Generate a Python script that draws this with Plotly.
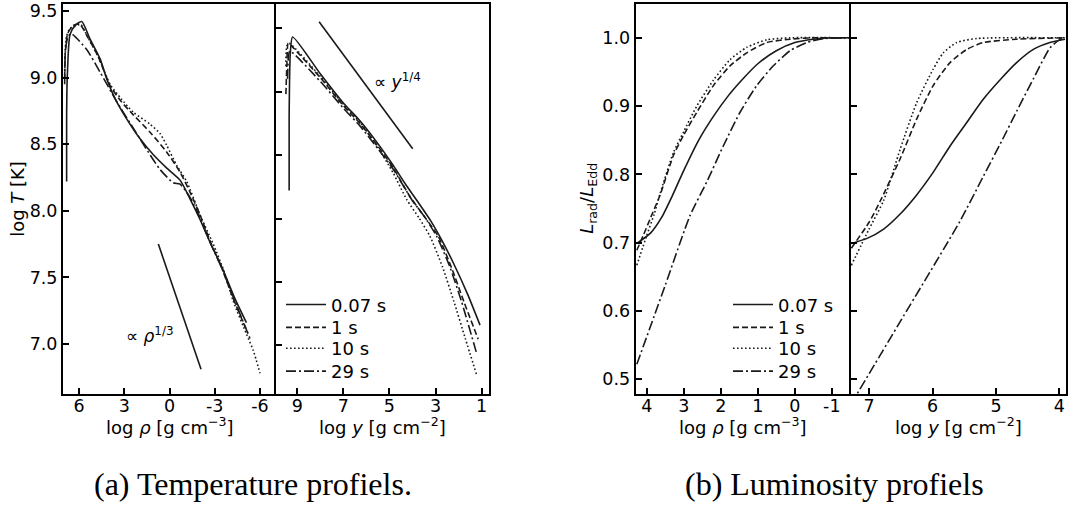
import plotly.graph_objects as go

# ---------------- data ----------------
labels = ["0.07 s", "1 s", "10 s", "29 s"]

# temperature vs density (log rho, log T)
rho_T_x = [
    [6.82, 6.82, 6.78, 6.6, 6.27, 5.82, 5.27, 4.6, 4.16, 3.6, 2.84, 1.95, 1.07, 0.18, -0.70, -1.36, -2.0, -2.7, -3.5, -4.3, -5.1],
    [6.95, 6.9, 6.75, 6.4, 5.95, 5.4, 4.7, 3.94, 3.2, 2.4, 1.29, 0.18, -0.70, -1.36, -2.02, -2.7, -3.5, -4.3, -5.2],
    [6.95, 6.85, 6.6, 6.3, 5.9, 5.4, 4.7, 3.94, 3.2, 2.4, 1.29, 0.63, 0.18, -0.48, -1.14, -2.02, -2.9, -3.6, -4.23, -5.12, -5.56, -6.0],
    [6.95, 6.9, 6.75, 6.53, 5.49, 4.6, 3.5, 2.4, 1.29, 0.63, -0.25, -0.70, -1.36, -2.02, -2.7, -3.5, -4.3, -5.34],
]
rho_T_y = [
    [8.22, 8.7, 8.99, 9.32, 9.39, 9.42, 9.29, 9.14, 8.99, 8.84, 8.69, 8.54, 8.42, 8.32, 8.23, 8.09, 7.94, 7.76, 7.57, 7.35, 7.16],
    [9.0, 9.2, 9.33, 9.39, 9.40, 9.30, 9.15, 8.94, 8.82, 8.72, 8.59, 8.44, 8.29, 8.14, 7.97, 7.77, 7.56, 7.32, 7.08],
    [9.05, 9.3, 9.37, 9.38, 9.40, 9.30, 9.15, 8.95, 8.84, 8.74, 8.65, 8.58, 8.49, 8.34, 8.22, 7.97, 7.75, 7.55, 7.32, 7.07, 6.95, 6.78],
    [8.95, 9.2, 9.3, 9.33, 9.21, 9.04, 8.82, 8.62, 8.42, 8.31, 8.21, 8.20, 8.10, 7.95, 7.76, 7.56, 7.33, 7.04],
]

# temperature vs column depth (log y, log T)
y_T_x = [
    [9.35, 9.35, 9.3, 9.2, 8.0, 7.0, 6.28, 5.5, 4.84, 4.3, 3.76, 3.2, 2.7, 2.2, 1.6, 1.07],
    [9.49, 9.45, 9.39, 9.25, 8.0, 7.0, 6.28, 5.5, 4.84, 4.1, 3.5, 2.88, 2.3, 1.77, 1.15],
    [9.49, 9.45, 9.35, 8.0, 7.0, 6.28, 5.5, 4.84, 4.25, 3.7, 3.24, 2.7, 2.2, 1.7, 1.22],
    [9.42, 9.38, 9.32, 8.0, 7.0, 6.28, 5.5, 4.84, 4.0, 3.5, 2.95, 2.4, 1.87, 1.22],
]
y_T_y = [
    [8.22, 8.8, 9.3, 9.43, 9.14, 8.91, 8.77, 8.59, 8.42, 8.27, 8.13, 7.98, 7.82, 7.64, 7.40, 7.16],
    [8.98, 9.2, 9.38, 9.36, 9.11, 8.89, 8.75, 8.57, 8.40, 8.17, 8.02, 7.86, 7.61, 7.345, 7.05],
    [9.2, 9.36, 9.38, 9.12, 8.90, 8.76, 8.56, 8.36, 8.15, 8.0, 7.86, 7.62, 7.345, 7.05, 6.77],
    [9.1, 9.28, 9.32, 9.08, 8.87, 8.73, 8.55, 8.39, 8.14, 8.02, 7.86, 7.63, 7.345, 6.94],
]

# radiative luminosity vs density (log rho, L_rad/L_Edd)
rho_L_x = [
    [4.27, 3.9, 3.6, 3.3, 3.0, 2.6, 2.2, 1.8, 1.4, 1.0, 0.5, 0.0, -0.5, -1.0, -1.51],
    [4.27, 4.1, 3.91, 3.64, 3.28, 3.01, 2.65, 2.2, 1.75, 1.3, 0.76, 0.13, -0.5, -1.51],
    [4.27, 4.0, 3.8, 3.64, 3.28, 3.0, 2.65, 2.2, 1.75, 1.3, 0.76, 0.13, -1.51],
    [4.27, 3.5, 2.83, 2.38, 1.93, 1.48, 1.03, 0.58, 0.13, -0.32, -0.8, -1.51],
]
rho_L_y = [
    [0.699, 0.714, 0.737, 0.770, 0.806, 0.850, 0.885, 0.915, 0.940, 0.962, 0.981, 0.993, 0.998, 1.0, 1.0],
    [0.689, 0.710, 0.735, 0.770, 0.828, 0.857, 0.891, 0.930, 0.959, 0.978, 0.993, 0.998, 1.0, 1.0],
    [0.667, 0.711, 0.742, 0.772, 0.832, 0.863, 0.900, 0.938, 0.968, 0.986, 0.997, 1.0, 1.0],
    [0.522, 0.638, 0.740, 0.789, 0.842, 0.891, 0.930, 0.959, 0.981, 0.993, 0.999, 1.0],
]

# radiative luminosity vs column depth (log y, L_rad/L_Edd)
y_L_x = [
    [7.28, 7.04, 6.77, 6.51, 6.25, 5.99, 5.72, 5.46, 5.2, 4.93, 4.67, 4.41, 4.15, 3.91],
    [7.28, 7.0, 6.83, 6.51, 6.25, 5.99, 5.72, 5.46, 5.2, 4.67, 3.91],
    [7.28, 7.0, 6.77, 6.51, 6.25, 5.99, 5.83, 5.62, 5.3, 3.91],
    [7.29, 6.5, 5.57, 5.2, 4.93, 4.67, 4.41, 4.15, 4.0, 3.91],
]
y_L_y = [
    [0.699, 0.706, 0.720, 0.742, 0.770, 0.803, 0.842, 0.876, 0.910, 0.939, 0.964, 0.983, 0.993, 0.998],
    [0.692, 0.730, 0.760, 0.823, 0.881, 0.930, 0.964, 0.983, 0.993, 0.998, 1.0],
    [0.667, 0.720, 0.762, 0.837, 0.905, 0.954, 0.978, 0.993, 0.999, 1.0],
    [0.463, 0.586, 0.731, 0.797, 0.845, 0.893, 0.940, 0.985, 0.997, 1.0],
]

# power-law guide lines
guide_rho_x = [0.74, -2.09]
guide_rho_y = [7.75, 6.81]
guide_y_x = [8.05, 3.99]
guide_y_y = [9.55, 8.55]

# ---------------- styling ----------------
W, H = 1069, 512
INK = "#1a1a1a"
FONT = "DejaVu Sans"
dashes = ["solid", "6px,3px", "1.6px,2.4px", "10px,3px,2px,3px"]


def px(x):
    return x / W


def py(y):
    return 1 - y / H


top, bottom = 1, 393
ydom = [py(bottom), py(top)]

fig = go.Figure()

# one single-entry legend per line style, so the rows sit at fixed pitch
legend_names = [["legend", "legend2", "legend3", "legend4"],
                ["legend5", "legend6", "legend7", "legend8"]]

panels = [
    (rho_T_x, rho_T_y, "x", "y", None),
    (y_T_x, y_T_y, "x2", "y2", 0),
    (rho_L_x, rho_L_y, "x3", "y3", 1),
    (y_L_x, y_L_y, "x4", "y4", None),
]
for xs, ys, xa, ya, leg in panels:
    for i in range(4):
        tr = dict(
            x=xs[i], y=ys[i], mode="lines", xaxis=xa, yaxis=ya,
            name=labels[i],
            line=dict(color=INK, width=1.6, dash=dashes[i], shape="spline", smoothing=0.6),
            showlegend=leg is not None,
            hoverinfo="skip",
        )
        if leg is not None:
            tr["legend"] = legend_names[leg][i]
        fig.add_trace(go.Scatter(**tr))

fig.add_trace(go.Scatter(x=guide_rho_x, y=guide_rho_y, mode="lines", xaxis="x", yaxis="y",
                         line=dict(color=INK, width=1.6), showlegend=False, hoverinfo="skip"))
fig.add_trace(go.Scatter(x=guide_y_x, y=guide_y_y, mode="lines", xaxis="x2", yaxis="y2",
                         line=dict(color=INK, width=1.6), showlegend=False, hoverinfo="skip"))

axis_common = dict(
    showline=True, linewidth=2, linecolor="black",
    ticks="inside", ticklen=6, tickwidth=1.5, tickcolor="black",
    showgrid=False, zeroline=False, ticklabeloverflow="allow",
    tickfont=dict(family=FONT, size=17.5, color="black"),
)


def xticks(vals):
    return dict(tickmode="array", tickvals=vals, ticktext=[str(v) for v in vals],
                mirror=True, ticklabelstandoff=-5)


T_ticks = [7.0, 7.5, 8.0, 8.5, 9.0, 9.5]
L_ticks = [0.5, 0.6, 0.7, 0.8, 0.9, 1.0]

layout = dict(
    width=W, height=H, autosize=False,
    margin=dict(l=0, r=0, t=0, b=0),
    paper_bgcolor="white", plot_bgcolor="white",
    font=dict(family=FONT, color="black"),
    xaxis=dict(domain=[px(63), px(276)], range=[7.06, -7.06], anchor="y",
               **xticks([6, 3, 0, -3, -6]), **axis_common),
    yaxis=dict(domain=ydom, range=[6.627, 9.552], anchor="x", mirror=False,
               tickmode="array", tickvals=T_ticks, ticktext=[f"{v:.1f}" for v in T_ticks],
               **axis_common),
    xaxis2=dict(domain=[px(276), px(489)], range=[9.92, 0.68], anchor="y2",
                **xticks([9, 7, 5, 3, 1]), **axis_common),
    yaxis2=dict(domain=ydom, range=[6.62, 9.69], anchor="x2", mirror=True,
                tickmode="array", tickvals=T_ticks, showticklabels=False, **axis_common),
    xaxis3=dict(domain=[px(635.7), px(850.7)], range=[4.30, -1.51], anchor="y3",
                **xticks([4, 3, 2, 1, 0, -1]), **axis_common),
    yaxis3=dict(domain=ydom, range=[0.479, 1.0495], anchor="x3", mirror=False,
                tickmode="array", tickvals=L_ticks, ticktext=[f"{v:.1f}" for v in L_ticks],
                **axis_common),
    xaxis4=dict(domain=[px(850.7), px(1065.7)], range=[7.29, 3.90], anchor="y4",
                **xticks([7, 6, 5, 4]), **axis_common),
    yaxis4=dict(domain=ydom, range=[0.479, 1.0495], anchor="x4", mirror=True,
                tickmode="array", tickvals=L_ticks, showticklabels=False, **axis_common),
)

row_tops = [285, 308, 329, 352]
for group, left in zip(legend_names, [281, 728]):
    for name, ytop in zip(group, row_tops):
        layout[name] = dict(x=px(left), y=py(ytop), xanchor="left", yanchor="top",
                            bgcolor="rgba(0,0,0,0)", borderwidth=0,
                            font=dict(family=FONT, size=18, color="black"), itemwidth=40)

fig.update_layout(**layout)

ann_font = dict(family=FONT, size=18, color="black")
annotations = [
    # axis titles
    dict(text="log <i>ρ</i> [g cm<sup>−3</sup>]", x=px(169.5), y=py(425)),
    dict(text="log <i>y</i> [g cm<sup>−2</sup>]", x=px(382.5), y=py(425)),
    dict(text="log <i>ρ</i> [g cm<sup>−3</sup>]", x=px(743), y=py(425)),
    dict(text="log <i>y</i> [g cm<sup>−2</sup>]", x=px(958), y=py(425)),
    dict(text="log <i>T</i> [K]", x=px(18), y=py(197), textangle=-90),
    dict(text="<i>L</i><sub>rad</sub>/<i>L</i><sub>Edd</sub>", x=px(588), y=py(197), textangle=-90),
]
for a in annotations:
    fig.add_annotation(xref="paper", yref="paper", showarrow=False,
                       xanchor="center", yanchor="middle", font=ann_font, **a)

# power-law labels
fig.add_annotation(xref="x", yref="y", x=3.02, y=7.07, text="∝ <i>ρ</i><sup>1/3</sup>",
                   showarrow=False, xanchor="left", yanchor="middle",
                   font=dict(family=FONT, size=17, color="black"))
fig.add_annotation(xref="x2", yref="y2", x=5.77, y=9.08, text="∝ <i>y</i><sup>1/4</sup>",
                   showarrow=False, xanchor="left", yanchor="middle",
                   font=dict(family=FONT, size=17, color="black"))

# sub-figure captions
cap_font = dict(family="Liberation Serif", size=32, color="black")
fig.add_annotation(xref="paper", yref="paper", x=px(253), y=py(484), text="(a) Temperature profiels.",
                   showarrow=False, xanchor="center", yanchor="middle", font=cap_font)
fig.add_annotation(xref="paper", yref="paper", x=px(834.5), y=py(484), text="(b) Luminosity profiels",
                   showarrow=False, xanchor="center", yanchor="middle", font=cap_font)

fig.write_html("out.html")
